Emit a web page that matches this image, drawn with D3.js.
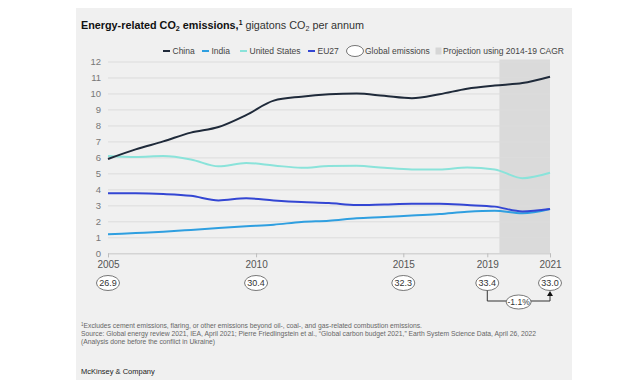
<!DOCTYPE html>
<html><head><meta charset="utf-8">
<script src="https://cdn.jsdelivr.net/npm/d3@7"></script>
<style>
body{margin:0;background:#fff;}
svg{display:block;font-family:"Liberation Sans",Arial,Helvetica,sans-serif;}
</style>
</head><body>
<svg id="chart" width="640" height="380"></svg>
<script>
// ---------- data ----------
const years = [2005,2006,2007,2008,2009,2010,2011,2012,2013,2014,2015,2016,2017,2018,2019,2020,2021];
const china = [5.9,6.5,7.0,7.55,7.9,8.65,9.55,9.8,9.95,10.0,9.85,9.7,9.95,10.3,10.5,10.65,11.05];
const india = [1.19,1.27,1.35,1.46,1.58,1.69,1.79,1.96,2.04,2.19,2.27,2.37,2.46,2.6,2.66,2.5,2.77];
const unitedStates = [6.08,6.02,6.08,5.87,5.44,5.65,5.5,5.35,5.46,5.48,5.35,5.25,5.25,5.37,5.25,4.7,5.04];
const eu27 = [3.75,3.75,3.71,3.6,3.31,3.44,3.31,3.21,3.15,3.02,3.06,3.1,3.1,3.02,2.92,2.62,2.77];
const yTicks = [0,1,2,3,4,5,6,7,8,9,10,11,12];
const xTickLabels = ["2005","2010","2015","2019","2021"];
const xTickAt = [2005, 2010.36, 2015.69, 2018.73, 2021];   // label positions as drawn in the source
const globalEmissions = ["26.9","30.4","32.3","33.4","33.0"];
const cagrLabel = "-1.1%";
const projection = [2019.17, 2021];
const seriesNames = ["China","India","United States","EU27"];
const seriesColors = ["#1f2a3a","#2f9fe0","#8ae3da","#3346d3"];

// ---------- layout ----------
const svg = d3.select("#chart");
const W = 640, H = 380;
const x = d3.scaleLinear().domain([2005, 2021]).range([108, 550]);
const y = d3.scaleLinear().domain([0, 12]).range([253.3, 61.5]);

// panel background
svg.append("rect").attr("x",76).attr("y",8).attr("width",496).attr("height",H-8).attr("fill","#f0f0f0");

// title
const title = svg.append("text").attr("x",81).attr("y",29).attr("font-size",10.8).attr("fill","#111");
const tb = title.append("tspan").attr("font-weight","bold");
tb.append("tspan").text("Energy-related CO");
tb.append("tspan").attr("font-size",7.2).attr("dy",2).text("2");
tb.append("tspan").attr("dy",-2).text(" emissions,");
tb.append("tspan").attr("font-size",6.8).attr("dy",-4).text("1");
const tn = title.append("tspan").attr("dy",4).attr("fill","#333");
tn.append("tspan").text(" gigatons CO");
tn.append("tspan").attr("font-size",7.2).attr("dy",2).text("2");
tn.append("tspan").attr("dy",-2).text(" per annum");

// legend
const leg = svg.append("g").attr("font-size",8.5).attr("fill","#444");
const legX = [163, 202, 240, 308];
seriesNames.forEach((n,i)=>{
  leg.append("line").attr("x1",legX[i]).attr("x2",legX[i]+7).attr("y1",51).attr("y2",51)
     .attr("stroke",seriesColors[i]).attr("stroke-width",2);
  leg.append("text").attr("x",legX[i]+9.5).attr("y",54).attr("fill","#444").text(n);
});
leg.append("ellipse").attr("cx",355).attr("cy",51).attr("rx",8.5).attr("ry",5.5)
   .attr("fill","#fff").attr("stroke","#555").attr("stroke-width",0.8);
leg.append("text").attr("x",365).attr("y",54).attr("fill","#444").text("Global emissions");
leg.append("rect").attr("x",435.5).attr("y",47.5).attr("width",6).attr("height",7).attr("fill","#d6d6d6");
leg.append("text").attr("x",443).attr("y",54).attr("fill","#444").text("Projection using 2014-19 CAGR");

// projection shading
svg.append("rect").attr("x",x(projection[0])).attr("y",y(12)-2)
   .attr("width",x(projection[1])-x(projection[0])).attr("height",y(0)-y(12)+2)
   .attr("fill","#dadada");

// gridlines + y labels
const yAxis = d3.axisLeft(y).tickValues(yTicks).tickSize(-(x(2021)-x(2005))).tickPadding(7);
const gy = svg.append("g").attr("transform",`translate(${x(2005)},0)`).call(yAxis);
gy.select(".domain").remove();
gy.selectAll(".tick line").attr("stroke","#dcdcdc").attr("stroke-width",1);
gy.selectAll(".tick text").attr("font-size",9.5).attr("fill","#777").attr("font-family","inherit");

// x axis
const xAxis = d3.axisBottom(x).tickValues(xTickAt).tickFormat((d,i)=>xTickLabels[i]).tickSize(4).tickPadding(4);
const gx = svg.append("g").attr("transform",`translate(0,${y(0)})`).call(xAxis);
gx.select(".domain").attr("stroke","#cfcfcf");
gx.selectAll(".tick line").attr("stroke","#bdbdbd");
gx.selectAll(".tick text").attr("font-size",10).attr("fill","#555").attr("font-family","inherit");

// lines
const line = d3.line().x((d,i)=>x(years[i])).y(d=>y(d)).curve(d3.curveMonotoneX);
const drawOrder = [2,1,3,0];
const allSeries = [china, india, unitedStates, eu27];
drawOrder.forEach(k=>{
  svg.append("path").datum(allSeries[k]).attr("d",line).attr("fill","none")
     .attr("stroke",seriesColors[k]).attr("stroke-width",2).attr("stroke-linejoin","round");
});

// global emissions bubbles
const bubY = 283;
const gb = svg.append("g");
xTickAt.forEach((t,i)=>{
  gb.append("ellipse").attr("cx",x(t)).attr("cy",bubY).attr("rx",11.5).attr("ry",7.5)
    .attr("fill","#fff").attr("stroke","#555").attr("stroke-width",0.8);
  gb.append("text").attr("x",x(t)).attr("y",bubY+3.2).attr("text-anchor","middle")
    .attr("font-size",9).attr("fill","#333").text(globalEmissions[i]);
});

// CAGR bracket
const xa = x(xTickAt[3]), xb = x(xTickAt[4]);
const by = 301;
svg.append("path").attr("d",`M${xa},${bubY+7.5}V${by}H${xb}V${bubY+12}`)
   .attr("fill","none").attr("stroke","#333").attr("stroke-width",1);
svg.append("path").attr("d",`M${xb-3},${bubY+13}L${xb},${bubY+8}L${xb+3},${bubY+13}Z`).attr("fill","#111");
svg.append("ellipse").attr("cx",(xa+xb)/2).attr("cy",by+1).attr("rx",12.5).attr("ry",7)
   .attr("fill","#fff").attr("stroke","#555").attr("stroke-width",0.8);
svg.append("text").attr("x",(xa+xb)/2).attr("y",by+4).attr("text-anchor","middle")
   .attr("font-size",8.5).attr("fill","#333").text(cagrLabel);

// footnotes
const fn = svg.append("g").attr("font-size",6.75).attr("fill","#666");
const notes = [
  "Excludes cement emissions, flaring, or other emissions beyond oil-, coal-, and gas-related combustion emissions.",
  "Source: Global energy review 2021, IEA, April 2021; Pierre Friedlingstein et al., \u201cGlobal carbon budget 2021,\u201d Earth System Science Data, April 26, 2022",
  "(Analysis done before the conflict in Ukraine)"
];
const n0 = fn.append("text").attr("x",81).attr("y",328);
n0.append("tspan").attr("font-size",4.5).attr("dy",-2).text("1");
n0.append("tspan").attr("dy",2).text(notes[0]);
fn.append("text").attr("x",81).attr("y",336).text(notes[1]);
fn.append("text").attr("x",81).attr("y",344).text(notes[2]);

svg.append("text").attr("x",81).attr("y",374).attr("font-size",7.5).attr("fill","#222").text("McKinsey & Company");
</script>
</body></html>
